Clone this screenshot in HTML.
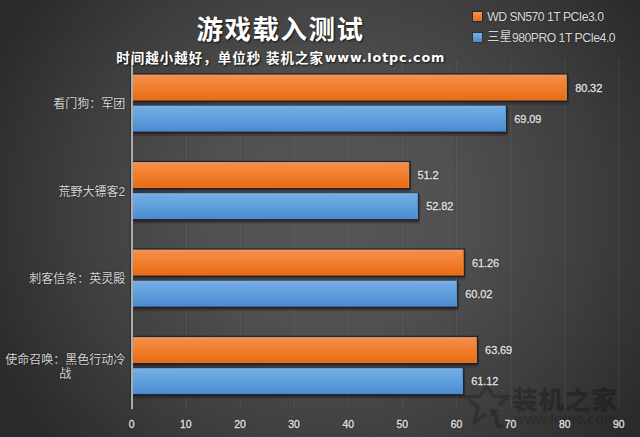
<!DOCTYPE html>
<html><head><meta charset="utf-8">
<style>
html,body{margin:0;padding:0;}
body{width:640px;height:437px;overflow:hidden;position:relative;
background:radial-gradient(ellipse 58% 80% at 52% 48%, #575757 0%, #505050 35%, #3e3e3e 70%, #2b2b2b 100%);
font-family:"Liberation Sans","Noto Sans CJK SC",sans-serif;}
.dl{position:absolute;font-size:11px;line-height:12px;margin-top:-6px;color:#e2e2e2;-webkit-text-stroke:0.3px #e2e2e2;text-shadow:0 0 2px rgba(0,0,0,0.7);white-space:nowrap;letter-spacing:-0.1px;}
.cat{position:absolute;right:514.8px;max-width:120px;margin-top:1px;text-align:center;transform:translateY(-50%);font-size:12px;line-height:14.4px;color:#d4d4d4;text-shadow:0 0 2px rgba(0,0,0,0.6);}
.xl{position:absolute;top:419.1px;width:40px;margin-left:-20.3px;text-align:center;font-size:10.4px;line-height:12px;color:#e2e2e2;-webkit-text-stroke:0.3px #e2e2e2;text-shadow:0 0 2px rgba(0,0,0,0.7);}
.title{position:absolute;left:196.5px;top:13.5px;font-size:26.5px;line-height:32px;font-weight:bold;color:#fff;letter-spacing:1.5px;text-shadow:1px 1px 2px rgba(0,0,0,0.8);white-space:nowrap;}
.sub{position:absolute;left:116.3px;top:48.5px;font-size:13.5px;line-height:20px;font-weight:bold;color:#fff;letter-spacing:1px;text-shadow:1px 1px 2px rgba(0,0,0,0.8);white-space:nowrap;}
.sub .u{font-family:"DejaVu Sans",sans-serif;font-size:12.8px;letter-spacing:0.8px;margin-left:0.6px;position:relative;top:-1px;}
.leg{position:absolute;left:473.2px;font-size:12.2px;letter-spacing:-0.5px;line-height:14px;color:#d9d9d9;white-space:nowrap;text-shadow:0 0 2px rgba(0,0,0,0.5);}
.leg i{display:inline-block;width:9px;height:9px;margin-right:5px;vertical-align:-0.5px;}
.wmt{position:absolute;left:512px;top:385px;font-size:25.5px;line-height:30px;font-weight:900;color:rgba(0,0,0,0.25);letter-spacing:0.9px;white-space:nowrap;}
.wmu{position:absolute;left:514px;top:411px;font-size:14px;line-height:16px;font-weight:bold;color:rgba(0,0,0,0.18);white-space:nowrap;}
</style></head><body>
<div class="wmt">装机之家</div>
<div class="wmu">www.lotpc.com</div>
<svg width="640" height="437" viewBox="0 0 640 437" style="position:absolute;left:0;top:0"><defs>
<linearGradient id="go" x1="0" y1="0" x2="0" y2="1">
<stop offset="0" stop-color="#f5975e"/><stop offset="0.12" stop-color="#f28b49"/><stop offset="0.45" stop-color="#f1802d"/>
<stop offset="0.86" stop-color="#e9711b"/><stop offset="0.955" stop-color="#e66c15"/><stop offset="1" stop-color="#f07a22"/>
</linearGradient>
<linearGradient id="gb" x1="0" y1="0" x2="0" y2="1">
<stop offset="0" stop-color="#7cb3ea"/><stop offset="0.12" stop-color="#70aae2"/><stop offset="0.5" stop-color="#609fdc"/>
<stop offset="0.88" stop-color="#4f8fd3"/><stop offset="0.955" stop-color="#4a8bd0"/><stop offset="1" stop-color="#3f92e6"/>
</linearGradient>
<filter id="b1" x="-5%" y="-50%" width="110%" height="200%"><feGaussianBlur stdDeviation="0.5"/></filter>
<filter id="b2" x="-5%" y="-50%" width="110%" height="200%"><feGaussianBlur stdDeviation="1.1"/></filter>
</defs><rect x="184.53" y="59.35" width="3.2" height="350.00" fill="rgba(0,0,0,0.05)"/><rect x="185.32" y="59.35" width="1.6" height="350.00" fill="rgba(255,255,255,0.075)"/><rect x="238.65" y="59.35" width="3.2" height="350.00" fill="rgba(0,0,0,0.05)"/><rect x="239.45" y="59.35" width="1.6" height="350.00" fill="rgba(255,255,255,0.075)"/><rect x="292.77" y="59.35" width="3.2" height="350.00" fill="rgba(0,0,0,0.05)"/><rect x="293.57" y="59.35" width="1.6" height="350.00" fill="rgba(255,255,255,0.075)"/><rect x="346.90" y="59.35" width="3.2" height="350.00" fill="rgba(0,0,0,0.05)"/><rect x="347.70" y="59.35" width="1.6" height="350.00" fill="rgba(255,255,255,0.075)"/><rect x="401.02" y="59.35" width="3.2" height="350.00" fill="rgba(0,0,0,0.05)"/><rect x="401.82" y="59.35" width="1.6" height="350.00" fill="rgba(255,255,255,0.075)"/><rect x="455.15" y="59.35" width="3.2" height="350.00" fill="rgba(0,0,0,0.05)"/><rect x="455.95" y="59.35" width="1.6" height="350.00" fill="rgba(255,255,255,0.075)"/><rect x="509.27" y="59.35" width="3.2" height="350.00" fill="rgba(0,0,0,0.05)"/><rect x="510.07" y="59.35" width="1.6" height="350.00" fill="rgba(255,255,255,0.075)"/><rect x="563.40" y="59.35" width="3.2" height="350.00" fill="rgba(0,0,0,0.05)"/><rect x="564.20" y="59.35" width="1.6" height="350.00" fill="rgba(255,255,255,0.075)"/><rect x="617.52" y="59.35" width="3.2" height="350.00" fill="rgba(0,0,0,0.05)"/><rect x="618.33" y="59.35" width="1.6" height="350.00" fill="rgba(255,255,255,0.075)"/><rect x="132.00" y="76.10" width="435.93" height="27.50" fill="rgba(20,25,30,0.6)" filter="url(#b2)"/><rect x="132.00" y="73.20" width="436.23" height="28.40" fill="rgba(14,30,46,0.72)" filter="url(#b1)"/><rect x="132.00" y="74.60" width="434.73" height="25.9" fill="url(#go)"/><rect x="565.63" y="75.60" width="1.1" height="24.9" fill="#f8861f" opacity="0.8"/><rect x="132.00" y="107.20" width="375.15" height="27.50" fill="rgba(35,22,12,0.7)" filter="url(#b2)"/><rect x="132.00" y="105.25" width="375.45" height="27.45" fill="rgba(36,28,22,0.5)" filter="url(#b1)"/><rect x="132.00" y="105.70" width="373.95" height="25.9" fill="url(#gb)"/><rect x="504.85" y="106.70" width="1.1" height="24.9" fill="#4b9be9" opacity="0.8"/><rect x="132.00" y="163.60" width="278.32" height="27.50" fill="rgba(20,25,30,0.6)" filter="url(#b2)"/><rect x="132.00" y="160.70" width="278.62" height="28.40" fill="rgba(14,30,46,0.72)" filter="url(#b1)"/><rect x="132.00" y="162.10" width="277.12" height="25.9" fill="url(#go)"/><rect x="408.02" y="163.10" width="1.1" height="24.9" fill="#f8861f" opacity="0.8"/><rect x="132.00" y="194.70" width="287.09" height="27.50" fill="rgba(35,22,12,0.7)" filter="url(#b2)"/><rect x="132.00" y="192.75" width="287.39" height="27.45" fill="rgba(36,28,22,0.5)" filter="url(#b1)"/><rect x="132.00" y="193.20" width="285.89" height="25.9" fill="url(#gb)"/><rect x="416.79" y="194.20" width="1.1" height="24.9" fill="#4b9be9" opacity="0.8"/><rect x="132.00" y="251.10" width="332.77" height="27.50" fill="rgba(20,25,30,0.6)" filter="url(#b2)"/><rect x="132.00" y="248.20" width="333.07" height="28.40" fill="rgba(14,30,46,0.72)" filter="url(#b1)"/><rect x="132.00" y="249.60" width="331.57" height="25.9" fill="url(#go)"/><rect x="462.47" y="250.60" width="1.1" height="24.9" fill="#f8861f" opacity="0.8"/><rect x="132.00" y="282.20" width="326.06" height="27.50" fill="rgba(35,22,12,0.7)" filter="url(#b2)"/><rect x="132.00" y="280.25" width="326.36" height="27.45" fill="rgba(36,28,22,0.5)" filter="url(#b1)"/><rect x="132.00" y="280.70" width="324.86" height="25.9" fill="url(#gb)"/><rect x="455.76" y="281.70" width="1.1" height="24.9" fill="#4b9be9" opacity="0.8"/><rect x="132.00" y="338.60" width="345.92" height="27.50" fill="rgba(20,25,30,0.6)" filter="url(#b2)"/><rect x="132.00" y="335.70" width="346.22" height="28.40" fill="rgba(14,30,46,0.72)" filter="url(#b1)"/><rect x="132.00" y="337.10" width="344.72" height="25.9" fill="url(#go)"/><rect x="475.62" y="338.10" width="1.1" height="24.9" fill="#f8861f" opacity="0.8"/><rect x="132.00" y="369.70" width="332.01" height="27.50" fill="rgba(35,22,12,0.7)" filter="url(#b2)"/><rect x="132.00" y="367.75" width="332.31" height="27.45" fill="rgba(36,28,22,0.5)" filter="url(#b1)"/><rect x="132.00" y="368.20" width="330.81" height="25.9" fill="url(#gb)"/><rect x="461.71" y="369.20" width="1.1" height="24.9" fill="#4b9be9" opacity="0.8"/><rect x="129.80" y="59.35" width="1.4" height="350.00" fill="rgba(0,0,0,0.22)"/><rect x="131.00" y="59.35" width="2" height="350.00" fill="#acacac"/><rect x="131.00" y="409.35" width="2" height="1.2" fill="rgba(0,0,0,0.3)"/><g fill="none" stroke="rgba(0,0,0,0.2)" stroke-width="3.6" stroke-linejoin="miter">
<path d="M485.8 414.5 L474.6 421.8 L477.8 407.3 L466.2 396.8 L479.2 396.3 L487.0 386.8 L493.8 396.2 L507.6 396.8 L498.6 405.4"/>
<path d="M495.4 413.8 C 496.6 418.5, 496.2 422.8, 497.8 425.2 C 499 427.2, 501.2 426.8, 502.2 424.6" stroke-linecap="butt" stroke-width="4.4"/>
</g>
<path d="M489.8 408.4 L499.2 410.6 L491.9 417.4 Z" fill="rgba(0,0,0,0.22)"/></svg>
<div class="title">游戏载入测试</div>
<div class="sub">时间越小越好，单位秒 装机之家<span class="u">www.lotpc.com</span></div>
<div class="leg" style="top:9.5px"><i style="background:linear-gradient(#f59458,#f07f2a 50%,#e86f19);box-shadow:0 0 0.8px 0.6px rgba(14,30,46,0.55)"></i>WD SN570 1T PCIe3.0</div>
<div class="leg" style="top:30.5px"><i style="background:linear-gradient(#79b1e8,#5f9edc 50%,#4a8bd0);box-shadow:0 0 0.8px 0.6px rgba(40,26,16,0.5)"></i><span style="font-size:12.1px;letter-spacing:0.3px;position:relative;top:-0.7px">三星</span>980PRO 1T PCIe4.0</div>
<div class="dl" style="top:87.55px;left:575.13px">80.32</div><div class="dl" style="top:118.65px;left:514.35px">69.09</div><div class="cat" style="top:103.10px">看门狗：军团</div><div class="dl" style="top:175.05px;left:417.52px">51.2</div><div class="dl" style="top:206.15px;left:426.29px">52.82</div><div class="cat" style="top:190.60px">荒野大镖客2</div><div class="dl" style="top:262.55px;left:471.97px">61.26</div><div class="dl" style="top:293.65px;left:465.26px">60.02</div><div class="cat" style="top:278.10px">刺客信条：英灵殿</div><div class="dl" style="top:350.05px;left:485.12px">63.69</div><div class="dl" style="top:381.15px;left:471.21px">61.12</div><div class="cat" style="top:365.60px">使命召唤：黑色行动冷战</div><div class="xl" style="left:132.00px">0</div><div class="xl" style="left:186.12px">10</div><div class="xl" style="left:240.25px">20</div><div class="xl" style="left:294.38px">30</div><div class="xl" style="left:348.50px">40</div><div class="xl" style="left:402.62px">50</div><div class="xl" style="left:456.75px">60</div><div class="xl" style="left:510.88px">70</div><div class="xl" style="left:565.00px">80</div><div class="xl" style="left:619.12px">90</div>
</body></html>
